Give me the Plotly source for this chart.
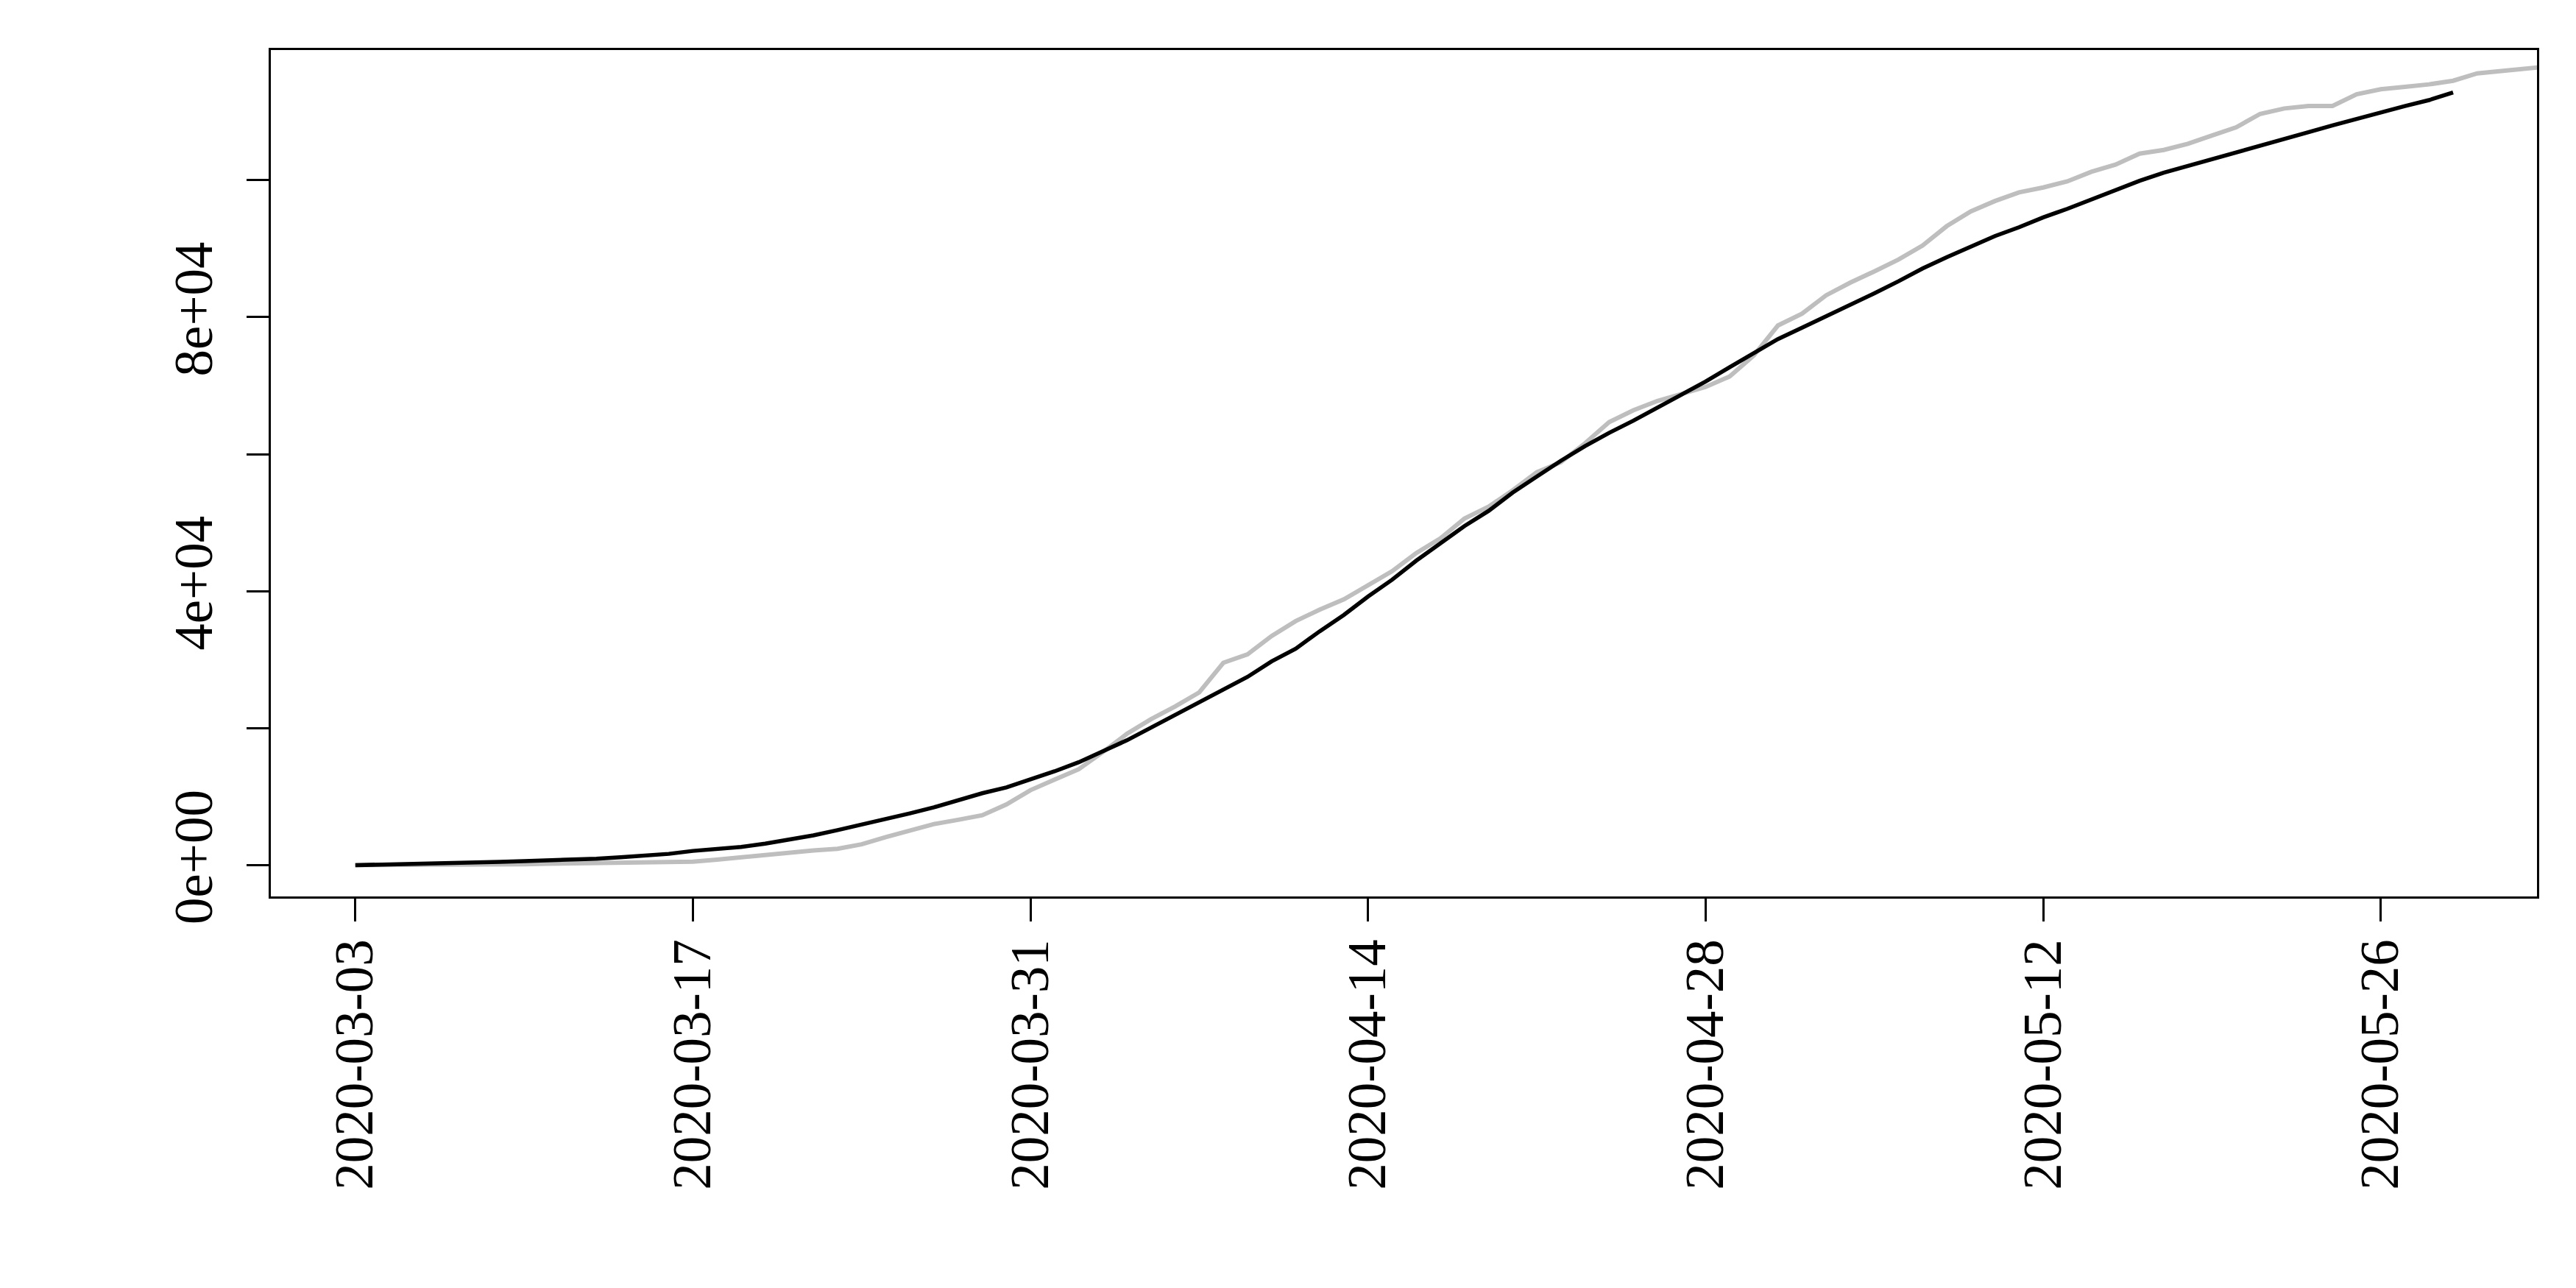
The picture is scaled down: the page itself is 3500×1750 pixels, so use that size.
import pandas as pd
import plotly.graph_objects as go

start = pd.Timestamp("2020-03-03")

# observed cumulative counts (grey), one value per day from 2020-03-03
observed = [
    0, 0, 20, 50, 60, 80, 100, 130, 200, 260,
    320, 360, 400, 440, 520, 800, 1150, 1600, 1820, 2150,
    2400, 3050, 4100, 5100, 6000, 6620, 7290, 8850, 10950, 12480,
    14000, 16500, 19170, 21310, 23160, 25220, 29540, 30770, 33450, 35630,
    37310, 38800, 40850, 42910, 45560, 47700, 50600, 52330, 54720, 57350,
    58830, 61590, 64670, 66400, 67760, 68790, 69810, 71340, 74420, 78780,
    80510, 83190, 85040, 86680, 88410, 90450, 93280, 95440, 96950, 98210,
    98930, 99820, 101220, 102260, 103870, 104410, 105300, 106520, 107700, 109670,
    110460, 110820, 110820, 112540, 113260, 113620, 113980, 114510, 115590, 115940,
    116300, 116600,
]

# fitted curve (black), one value per day from 2020-03-03
fitted = [
    0, 60, 140, 190, 250, 350, 470, 600, 700, 820,
    930, 1150, 1400, 1650, 2080, 2350, 2650, 3150, 3690, 4350,
    5120, 5900, 6680, 7560, 8450, 9500, 10500, 11350, 12500, 13700,
    15020, 16580, 18230, 20080, 21930, 23700, 25630, 27480, 29740, 31600,
    34150, 36530, 39210, 41670, 44450, 47000, 49500, 51710, 54390, 56730,
    59040, 61170, 63110, 64880, 66810, 68580, 70600, 72700, 74800, 76800,
    78460, 80100, 81750, 83480, 85240, 87100, 88750, 90300, 91830, 93120,
    94560, 95810, 97210, 98570, 99900, 101080, 102040, 103050, 104050, 105050,
    106020, 106990, 107990, 108960, 109960, 110820, 111680, 112790,
]

obs_dates = [start + pd.Timedelta(days=i) for i in range(len(observed))]
fit_dates = [start + pd.Timedelta(days=i) for i in range(len(fitted))]

x_tick_labels = ["2020-03-03", "2020-03-17", "2020-03-31", "2020-04-14",
                 "2020-04-28", "2020-05-12", "2020-05-26"]
y_tick_values = [0, 20000, 40000, 60000, 80000, 100000]
y_tick_labels = ["0e+00", "", "4e+04", "", "8e+04", ""]

fig = go.Figure()
fig.add_trace(go.Scatter(x=obs_dates, y=observed, mode="lines",
                         line=dict(color="#bebebe", width=6)))
fig.add_trace(go.Scatter(x=fit_dates, y=fitted, mode="lines",
                         line=dict(color="black", width=5.5)))

x_lo = start + pd.Timedelta(days=-3.503)
x_hi = start + pd.Timedelta(days=90.48)

fig.update_xaxes(
    type="date",
    range=[x_lo, x_hi],
    tickvals=[pd.Timestamp(t) for t in x_tick_labels],
    ticktext=x_tick_labels,
    tickangle=-90,
    ticks="outside", ticklen=31, tickwidth=2.5, tickcolor="black",
    showline=True, linecolor="black", linewidth=3, mirror=True,
    showgrid=False, zeroline=False,
    tickfont=dict(family="Liberation Serif", size=73, color="black"),
    ticklabelstandoff=-5,
)
fig.update_yaxes(
    range=[-4568, 118990],
    tickvals=y_tick_values,
    ticktext=y_tick_labels,
    tickangle=-90,
    ticks="outside", ticklen=30, tickwidth=2.5, tickcolor="black",
    showline=True, linecolor="black", linewidth=3, mirror=True,
    showgrid=False, zeroline=False,
    tickfont=dict(family="Liberation Serif", size=73, color="black"),
    ticklabelstandoff=18,
)
fig.update_layout(
    width=3500, height=1750, autosize=False,
    margin=dict(l=360, r=61, t=60, b=540),
    plot_bgcolor="white", paper_bgcolor="white",
    showlegend=False,
    font=dict(family="Liberation Serif", size=73, color="black"),
)

fig.write_html("out.html")
